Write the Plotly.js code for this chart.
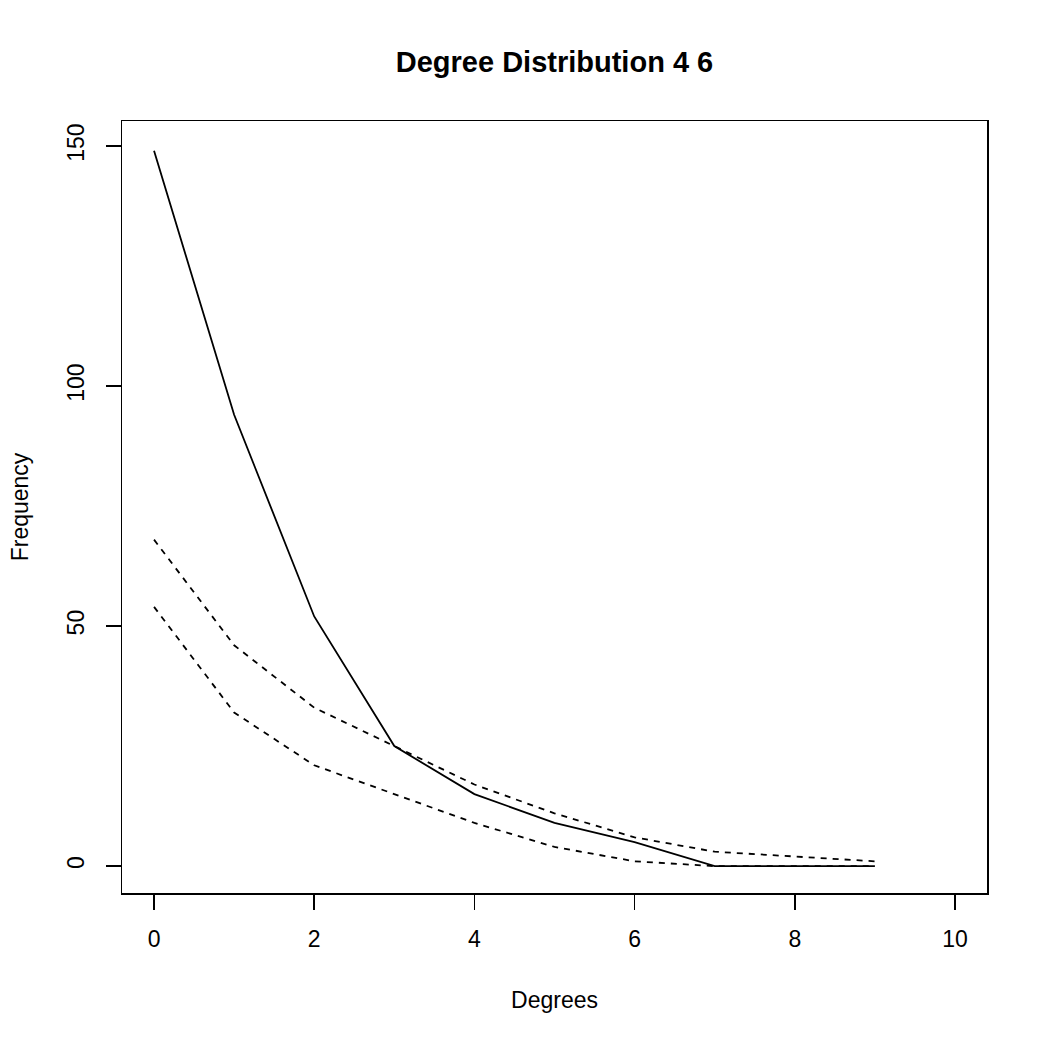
<!DOCTYPE html>
<html>
<head>
<meta charset="utf-8">
<script src="https://cdn.plot.ly/plotly-3.0.1.min.js"></script>
<style>html,body{margin:0;padding:0;background:#fff;}#chart{width:1048px;height:1048px;}</style>
</head>
<body>
<div id="chart"></div>
<script>
const degrees = [0, 1, 2, 3, 4, 5, 6, 7, 8, 9];
const observed = [149, 94, 52, 25, 15, 9, 5, 0, 0, 0];
const upperBound = [68, 46, 33, 25, 17, 11, 6, 3, 2, 1];
const lowerBound = [54, 32, 21, 15, 9, 4, 1, 0, 0, 0];
const xTicks = [0, 2, 4, 6, 8, 10];
const yTicks = [0, 50, 100, 150];

const font = "'Liberation Sans', Arial, Helvetica, sans-serif";

const traces = [
  {x: degrees, y: observed, type: 'scatter', mode: 'lines', line: {color: '#000', width: 1.8}, hoverinfo: 'skip'},
  {x: degrees, y: upperBound, type: 'scatter', mode: 'lines', line: {color: '#000', width: 1.8, dash: '6px,6px'}, hoverinfo: 'skip'},
  {x: degrees, y: lowerBound, type: 'scatter', mode: 'lines', line: {color: '#000', width: 1.8, dash: '6px,6px'}, hoverinfo: 'skip'}
];

const layout = {
  width: 1048, height: 1048,
  paper_bgcolor: '#fff', plot_bgcolor: '#fff',
  showlegend: false,
  margin: {l: 122, r: 61, t: 121, b: 155},
  font: {family: font, size: 23, color: '#000'},
  title: {text: '<b>Degree Distribution 4 6</b>', font: {family: font, size: 29, color: '#000'},
          x: 0.5, xanchor: 'center', xref: 'paper', y: 1 - 62/1048, yanchor: 'middle', yref: 'container'},
  xaxis: {
    range: [-0.4, 10.4], tickvals: xTicks, ticktext: xTicks.map(String),
    ticks: 'outside', ticklen: 15, tickwidth: 1.5, tickcolor: '#000',
    showline: true, linecolor: '#000', linewidth: 1.5, mirror: true,
    showgrid: false, zeroline: false, ticklabelstandoff: 10,
    title: {text: 'Degrees', font: {family: font, size: 23}, standoff: 41}
  },
  yaxis: {
    range: [-5.6, 155.2], tickvals: yTicks, ticktext: yTicks.map(String),
    ticks: 'outside', ticklen: 15, tickwidth: 1.5, tickcolor: '#000', tickangle: -90,
    showline: true, linecolor: '#000', linewidth: 1.5, mirror: true,
    showgrid: false, zeroline: false, ticklabelstandoff: 12,
    title: {text: 'Frequency', font: {family: font, size: 23}, standoff: 28}
  }
};

Plotly.newPlot('chart', traces, layout, {displayModeBar: false, staticPlot: true});
</script>
</body>
</html>
